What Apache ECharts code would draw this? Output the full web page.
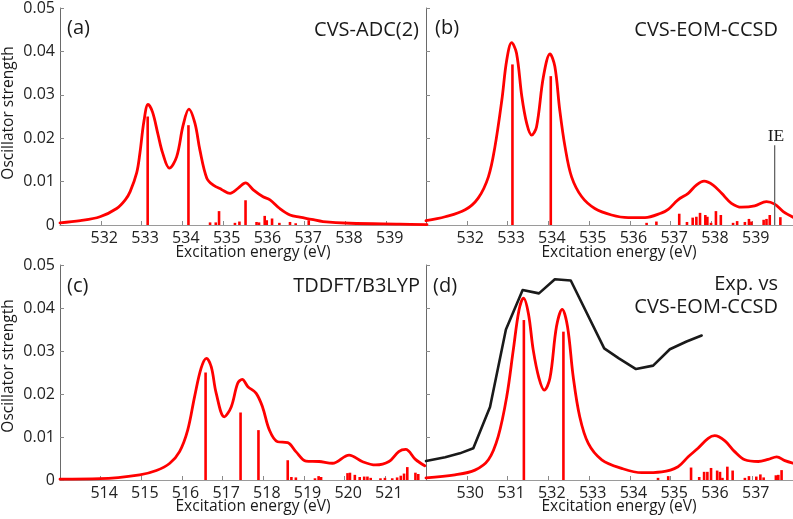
<!DOCTYPE html>
<html>
<head>
<meta charset="utf-8">
<script src="https://cdn.jsdelivr.net/npm/echarts@6/dist/echarts.min.js"></script>
<style>
html,body{margin:0;padding:0;background:#fff;}
#chart{width:793px;height:519px;}
</style>
</head>
<body>
<div id="chart"></div>
<script>
// ---------- data ----------
const yTicks = [0, 0.01, 0.02, 0.03, 0.04, 0.05];
const panelTitles = ['CVS-ADC(2)', 'CVS-EOM-CCSD', 'TDDFT/B3LYP', 'Exp. vs\nCVS-EOM-CCSD'];
const panelLetters = ['(a)', '(b)', '(c)', '(d)'];
const xRanges = [[531, 540], [531, 540], [513, 522], [529, 538]];
const ieEnergy = 539.55;
const ieHeight = 0.0184;

// (a) CVS-ADC(2)
const adcCurve = [
  [531.00,0.0005],[531.50,0.0010],[531.98,0.0019],[532.39,0.0038],[532.60,0.0058],[532.72,0.0077],
  [532.88,0.0120],[532.96,0.0166],[533.06,0.0240],[533.16,0.0278],[533.27,0.0260],[533.40,0.0210],
  [533.52,0.0165],[533.68,0.0131],[533.86,0.0157],[534.02,0.0230],[534.16,0.0267],[534.31,0.0234],
  [534.43,0.0173],[534.60,0.0108],[534.76,0.0092],[534.96,0.0082],[535.17,0.0073],[535.37,0.0085],
  [535.55,0.0097],[535.74,0.0081],[535.98,0.0065],[536.15,0.0058],[536.39,0.0038],[536.64,0.0023],
  [536.88,0.0018],[537.17,0.0013],[537.45,0.0008],[538.11,0.0004],[539.33,0.0002],[540.00,0.0001]
];
const adcSticks = [
  [533.15,0.0250],[534.15,0.0230],[534.68,0.0006],[534.82,0.0006],[534.90,0.0032],[535.29,0.0005],
  [535.40,0.0008],[535.55,0.0057],[535.82,0.0007],[535.88,0.0006],[536.02,0.0021],[536.07,0.0011],
  [536.20,0.0015],[536.38,0.0005],[536.64,0.0007],[536.78,0.0004],[537.10,0.0011]
];

// (b) CVS-EOM-CCSD
const eomCurve = [
  [531.00,0.0010],[531.47,0.0019],[531.96,0.0035],[532.28,0.0062],[532.53,0.0111],[532.69,0.0180],
  [532.86,0.0288],[532.98,0.0380],[533.10,0.0420],[533.22,0.0396],[533.35,0.0296],[533.47,0.0234],
  [533.59,0.0207],[533.71,0.0226],[533.88,0.0342],[534.04,0.0394],[534.16,0.0365],[534.28,0.0265],
  [534.41,0.0180],[534.57,0.0111],[534.82,0.0065],[535.14,0.0038],[535.55,0.0023],[535.96,0.0017],
  [536.37,0.0017],[536.78,0.0028],[536.94,0.0036],[537.18,0.0058],[537.43,0.0073],[537.63,0.0092],
  [537.82,0.0101],[538.04,0.0092],[538.25,0.0073],[538.49,0.0050],[538.74,0.0041],[539.06,0.0044],
  [539.35,0.0054],[539.55,0.0048],[539.76,0.0031],[540.00,0.0018]
];
const eomSticks = [
  [533.12,0.0370],[534.06,0.0343],[536.41,0.0005],[536.65,0.0008],[537.21,0.0026],[537.40,0.0007],
  [537.54,0.0017],[537.63,0.0019],[537.72,0.0028],[537.85,0.0023],[537.90,0.0019],[537.99,0.0005],
  [538.11,0.0032],[538.23,0.0023],[538.53,0.0005],[538.63,0.0009],[538.82,0.0007],[538.92,0.0014],
  [538.98,0.0008],[539.28,0.0012],[539.35,0.0014],[539.43,0.0023],[539.69,0.0018]
];

// (c) TDDFT/B3LYP
const tddftCurve = [
  [513.00,0.0002],[513.98,0.0003],[514.96,0.0012],[515.37,0.0022],[515.70,0.0039],[515.94,0.0066],
  [516.14,0.0116],[516.31,0.0194],[516.47,0.0260],[516.60,0.0283],[516.72,0.0263],[516.84,0.0202],
  [517.04,0.0147],[517.21,0.0170],[517.37,0.0225],[517.48,0.0234],[517.62,0.0217],[517.82,0.0202],
  [517.98,0.0170],[518.15,0.0116],[518.35,0.0089],[518.60,0.0087],[518.80,0.0066],[519.05,0.0044],
  [519.37,0.0043],[519.70,0.0039],[520.11,0.0058],[520.43,0.0043],[520.76,0.0035],[521.09,0.0043],
  [521.33,0.0066],[521.50,0.0071],[521.74,0.0048],[521.97,0.0033]
];
const tddftSticks = [
  [516.58,0.0250],[517.44,0.0157],[517.88,0.0116],[518.60,0.0046],[518.69,0.0007],[518.80,0.0006],
  [519.27,0.0004],[519.36,0.0009],[519.42,0.0007],[520.07,0.0016],[520.13,0.0017],[520.25,0.0012],
  [520.37,0.0007],[520.48,0.0008],[520.56,0.0008],[520.64,0.0005],[520.88,0.0004],[520.99,0.0005],
  [521.17,0.0004],[521.29,0.0006],[521.38,0.0010],[521.46,0.0015],[521.54,0.0030],[521.74,0.0017],
  [521.81,0.0014]
];

// (d) Experiment vs shifted CVS-EOM-CCSD
const expCurve = [
  [529.00,0.0044],[529.47,0.0053],[529.83,0.0062],[530.16,0.0074],[530.57,0.0170],[530.96,0.0350],
  [531.37,0.0442],[531.77,0.0434],[532.16,0.0467],[532.55,0.0464],[533.37,0.0306],[533.73,0.0283],
  [534.15,0.0258],[534.57,0.0266],[534.98,0.0304],[535.39,0.0322],[535.76,0.0336]
];
const eomShiftCurve = [
  [529.00,0.0005],[529.71,0.0012],[530.20,0.0023],[530.53,0.0047],[530.77,0.0101],[530.98,0.0194],
  [531.14,0.0302],[531.28,0.0395],[531.39,0.0423],[531.51,0.0388],[531.63,0.0302],[531.77,0.0237],
  [531.90,0.0209],[532.04,0.0237],[532.20,0.0357],[532.34,0.0397],[532.47,0.0357],[532.61,0.0240],
  [532.77,0.0147],[532.98,0.0085],[533.31,0.0047],[533.80,0.0027],[534.29,0.0017],[534.78,0.0019],
  [535.18,0.0031],[535.43,0.0054],[535.67,0.0074],[535.92,0.0097],[536.08,0.0103],[536.33,0.0091],
  [536.57,0.0066],[536.82,0.0047],[537.15,0.0043],[537.39,0.0048],[537.60,0.0054],[537.80,0.0045],
  [538.00,0.0039]
];
const eomShiftSticks = [
  [531.40,0.0372],[532.37,0.0345],[534.69,0.0005],[534.94,0.0009],[535.50,0.0029],[535.70,0.0007],
  [535.82,0.0019],[535.90,0.0019],[535.99,0.0028],[536.14,0.0022],[536.21,0.0019],[536.27,0.0005],
  [536.39,0.0031],[536.52,0.0022],[536.82,0.0005],[536.92,0.0009],[537.10,0.0008],[537.20,0.0013],
  [537.28,0.0006],[537.58,0.0011],[537.64,0.0012],[537.72,0.0023]
];

// ---------- chart ----------
const FONT = '"Open Sans", "Noto Sans", sans-serif';
const RED = '#ff0000';
const chart = echarts.init(document.getElementById('chart'), null, {renderer: 'canvas'});

const grids = [
  {left: 60, top: 8, width: 367, height: 217},
  {left: 426, top: 8, width: 367, height: 217},
  {left: 60, top: 265, width: 366, height: 215},
  {left: 426, top: 265, width: 367, height: 215}
];

const xAxes = xRanges.map((r, i) => ({
  type: 'value', gridIndex: i, min: r[0], max: r[1], interval: 1,
  axisLine: {show: true, onZero: false, lineStyle: {color: '#9a9a9a', width: 1}},
  axisTick: {show: true, inside: true, length: 4, lineStyle: {color: '#8a8a8a'}},
  axisLabel: {show: true, showMinLabel: false, showMaxLabel: false, margin: 5,
    fontFamily: FONT, fontSize: 16, color: '#222', lineHeight: 16, padding: [0, 0, 0, 7]},
  splitLine: {show: false}
}));

const yAxes = [0, 1, 2, 3].map(i => ({
  type: 'value', gridIndex: i, min: yTicks[0], max: yTicks[yTicks.length - 1], interval: 0.01,
  axisLine: {show: true, lineStyle: {color: '#6a6a6a', width: 1}},
  axisTick: {show: true, inside: true, length: 4, lineStyle: {color: '#8a8a8a'}},
  axisLabel: {show: i % 2 === 0, margin: 5, fontFamily: FONT, fontSize: 16, color: '#222',
    formatter: v => String(+v.toFixed(2))},
  splitLine: {show: false}
}));

function stickRender(params, api) {
  const base = api.coord([api.value(0), 0]);
  const top = api.coord([api.value(0), api.value(1)]);
  const w = 2.6;
  return {type: 'rect', shape: {x: base[0] - w / 2, y: top[1], width: w, height: base[1] - top[1]},
    style: {fill: RED}};
}
function sticks(idx, data) {
  return {type: 'custom', xAxisIndex: idx, yAxisIndex: idx, data: data, renderItem: stickRender,
    encode: {x: 0, y: 1}, clip: true, silent: true, z: 2};
}
function curve(idx, data, color, smooth, width) {
  return {type: 'line', xAxisIndex: idx, yAxisIndex: idx, data: data, showSymbol: false, symbol: 'none',
    smooth: smooth, clip: true, silent: true, z: 3,
    lineStyle: {color: color, width: width, cap: 'round', join: 'round'}};
}

const series = [
  sticks(0, adcSticks), curve(0, adcCurve, RED, 0.35, 2.8),
  sticks(1, eomSticks), curve(1, eomCurve, RED, 0.35, 2.8),
  {type: 'line', xAxisIndex: 1, yAxisIndex: 1, data: [[ieEnergy, 0], [ieEnergy, ieHeight]],
    symbol: 'none', silent: true, z: 4, lineStyle: {color: '#666', width: 1.3}},
  sticks(2, tddftSticks), curve(2, tddftCurve, RED, 0.35, 2.8),
  sticks(3, eomShiftSticks), curve(3, eomShiftCurve, RED, 0.35, 2.8),
  curve(3, expCurve, '#1a1a1a', false, 2.6)
];

function txt(x, y, text, size, align, family, rot) {
  return {type: 'text', x: x, y: y, rotation: rot || 0, silent: true, z: 10,
    style: {text: text, x: 0, y: 0, fill: '#1a1a1a', font: size + 'px ' + (family || FONT),
      align: align, textAlign: align, verticalAlign: 'middle', textVerticalAlign: 'middle', lineHeight: 23}};
}

const graphics = [
  txt(67, 28, panelLetters[0], 20, 'left'),
  txt(419, 30, panelTitles[0], 20, 'right'),
  txt(435, 28, panelLetters[1], 20, 'left'),
  txt(778, 30, panelTitles[1], 20, 'right'),
  txt(67, 286, panelLetters[2], 20, 'left'),
  txt(420, 286, panelTitles[2], 20, 'right'),
  txt(433, 286, panelLetters[3], 20, 'left'),
  {type: 'text', x: 778, y: 296, silent: true, z: 10,
    style: {text: panelTitles[3], x: 0, y: 0, fill: '#1a1a1a', font: '20px ' + FONT,
      align: 'right', textAlign: 'right', verticalAlign: 'middle', textVerticalAlign: 'middle', lineHeight: 23}},
  txt(776, 136, 'IE', 17.5, 'center', '"Liberation Serif", "DejaVu Serif", serif'),
  txt(253, 253, 'Excitation energy (eV)', 15.5, 'center'),
  txt(619, 253, 'Excitation energy (eV)', 15.5, 'center'),
  txt(253, 507, 'Excitation energy (eV)', 15.5, 'center'),
  txt(619, 507, 'Excitation energy (eV)', 15.5, 'center'),
  txt(9, 113, 'Oscillator strength', 15.5, 'center', null, Math.PI / 2),
  txt(9, 366, 'Oscillator strength', 15.5, 'center', null, Math.PI / 2)
];

chart.setOption({
  animation: false,
  backgroundColor: '#fff',
  grid: grids,
  xAxis: xAxes,
  yAxis: yAxes,
  series: series,
  graphic: graphics
});
</script>
</body>
</html>
